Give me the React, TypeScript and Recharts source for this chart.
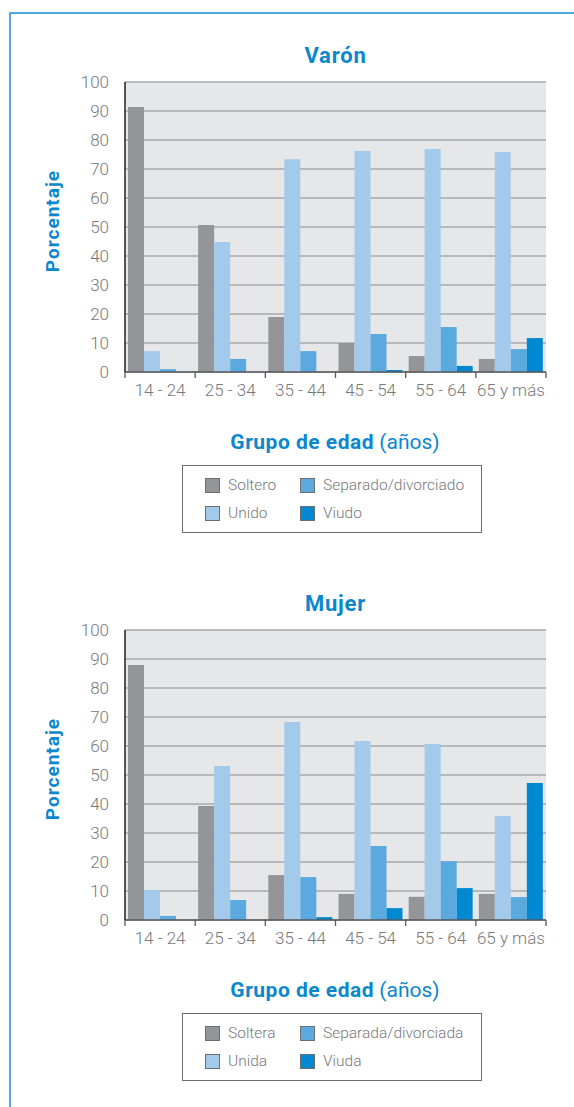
import React from 'react';
import { BarChart, Bar, XAxis, YAxis, CartesianGrid } from 'recharts';

const categories = ['14 - 24', '25 - 34', '35 - 44', '45 - 54', '55 - 64', '65 y más'];
const yTicks = [0, 10, 20, 30, 40, 50, 60, 70, 80, 90, 100];

const varonSoltero = [91.4, 50.7, 19.0, 10.0, 5.5, 4.5];
const varonUnido = [7.2, 44.8, 73.4, 76.2, 76.9, 75.9];
const varonSeparado = [1.0, 4.5, 7.2, 13.1, 15.5, 7.9];
const varonViudo = [0, 0, 0, 0.7, 2.1, 11.7];

const mujerSoltera = [87.9, 39.3, 15.5, 9.0, 8.0, 9.0];
const mujerUnida = [10.3, 53.1, 68.3, 61.7, 60.7, 35.9];
const mujerSeparada = [1.4, 6.9, 14.8, 25.5, 20.3, 7.9];
const mujerViuda = [0, 0, 1.0, 4.1, 11.0, 47.2];

const varonLabels = ['Soltero', 'Unido', 'Separado/divorciado', 'Viudo'];
const mujerLabels = ['Soltera', 'Unida', 'Separada/divorciada', 'Viuda'];

const COLORS = ['#939598', '#a3c9eb', '#5aaadf', '#0088d0'];
const BLUE = '#0a87cd';
const GRAY_TEXT = '#77787b';
const FONT = 'Roboto, "Liberation Sans", Arial, sans-serif';

const CHART_W = 574;
const CHART_H = 420;
const M = { top: 82, right: 28, bottom: 18, left: 65 };
const YAXIS_W = 60;
const PLOT_W = CHART_W - M.left - YAXIS_W - M.right;
const BAND = PLOT_W / categories.length;

const XTick = (props: any) => {
  const { x, y, payload, index } = props;
  const half = BAND / 2;
  return (
    <g>
      <line x1={x - half} x2={x - half} y1={y} y2={y + 6} stroke="#58595b" strokeWidth={1.3} />
      {index === categories.length - 1 && (
        <line x1={x + half} x2={x + half} y1={y} y2={y + 6} stroke="#58595b" strokeWidth={1.3} />
      )}
      <text x={x} y={y + 24} textAnchor="middle" fill={GRAY_TEXT} fontSize={17} fontWeight={300} fontFamily={FONT}>
        {payload.value}
      </text>
    </g>
  );
};

type PanelProps = {
  top: number;
  title: string;
  series: number[][];
  labels: string[];
};

const Panel = ({ top, title, series, labels }: PanelProps) => {
  const keys = ['s0', 's1', 's2', 's3'];
  const data = categories.map((c, i) => {
    const row: any = { cat: c };
    series.forEach((s, k) => {
      row[keys[k]] = s[i];
    });
    return row;
  });
  const legendOrder = [0, 2, 1, 3];
  return (
    <div style={{ position: 'absolute', left: 0, top, width: CHART_W, height: 548 }}>
      <div
        style={{
          position: 'absolute', left: 125, width: 421, top: 42, textAlign: 'center',
          color: BLUE, fontWeight: 700, fontSize: 22, letterSpacing: 0.8, fontFamily: FONT, lineHeight: '28px',
        }}
      >
        {title}
      </div>
      <div
        style={{
          position: 'absolute', left: 53 - 80, top: 221 - 14, width: 160, height: 28, lineHeight: '28px',
          textAlign: 'center', transform: 'rotate(-90deg)', color: BLUE, fontWeight: 700, fontSize: 19,
          letterSpacing: 1, fontFamily: FONT,
        }}
      >
        Porcentaje
      </div>
      <div style={{ position: 'absolute', left: 0, top: 0 }}>
        <BarChart width={CHART_W} height={CHART_H} data={data} margin={M} barCategoryGap={3} barGap={0}>
          <CartesianGrid vertical={false} fill="#e6e7e8" stroke="#a7a9ac" strokeWidth={1.4} />
          <XAxis
            dataKey="cat"
            interval={0}
            tick={<XTick />}
            tickLine={false}
            tickSize={0}
            tickMargin={0}
            height={30}
            axisLine={{ stroke: '#58595b', strokeWidth: 1.5 }}
          />
          <YAxis
            domain={[0, 100]}
            ticks={yTicks}
            width={YAXIS_W}
            tickLine={false}
            tickSize={6}
            tickMargin={10}
            interval={0}
            axisLine={{ stroke: '#231f20', strokeWidth: 1.5 }}
            tick={{ fill: GRAY_TEXT, fontSize: 17, fontWeight: 300, fontFamily: FONT }}
          />
          <YAxis
            yAxisId="r"
            orientation="right"
            width={0}
            tick={false}
            tickLine={false}
            axisLine={{ stroke: '#a7a9ac', strokeWidth: 1.4 }}
          />
          {keys.map((k, i) => (
            <Bar key={k} dataKey={k} fill={COLORS[i]} isAnimationActive={false} />
          ))}
        </BarChart>
      </div>
      <div
        style={{
          position: 'absolute', left: 125 + 210 - 160, width: 320, top: 428, textAlign: 'center',
          color: BLUE, fontSize: 21, fontFamily: FONT, lineHeight: '28px', whiteSpace: 'nowrap',
        }}
      >
        <span style={{ fontWeight: 700, letterSpacing: 0.5 }}>Grupo de edad</span>{' '}
        <span style={{ fontWeight: 400 }}>(años)</span>
      </div>
      <div
        style={{
          position: 'absolute', left: 182, top: 465, width: 300, height: 68, boxSizing: 'border-box',
          border: '1.5px solid #6d6e71', background: '#fff',
        }}
      >
        {legendOrder.map((idx, j) => {
          const col = j % 2;
          const row = Math.floor(j / 2);
          return (
            <div
              key={idx}
              style={{
                position: 'absolute', left: col === 0 ? 22 : 117, top: 11 + row * 28, height: 16,
                display: 'flex', alignItems: 'center', whiteSpace: 'nowrap',
              }}
            >
              <div
                style={{
                  width: 15, height: 15, background: COLORS[idx], boxSizing: 'border-box',
                  border: '1px solid #6d6e71', marginRight: 8,
                }}
              />
              <span style={{ color: GRAY_TEXT, fontSize: 15.5, fontWeight: 300, fontFamily: FONT }}>
                {labels[idx]}
              </span>
            </div>
          );
        })}
      </div>
    </div>
  );
};

export default function App() {
  return (
    <div style={{ position: 'absolute', left: 0, top: 0, width: 574, height: 1107, background: '#fff', overflow: 'hidden' }}>
      <div style={{ position: 'absolute', left: 9, top: 12, width: 565, height: 1.5, background: '#4fa9e0' }} />
      <div style={{ position: 'absolute', left: 9, top: 12, width: 1.5, height: 1095, background: '#4fa9e0' }} />
      <Panel top={0} title="Varón" series={[varonSoltero, varonUnido, varonSeparado, varonViudo]} labels={varonLabels} />
      <Panel top={548} title="Mujer" series={[mujerSoltera, mujerUnida, mujerSeparada, mujerViuda]} labels={mujerLabels} />
    </div>
  );
}
